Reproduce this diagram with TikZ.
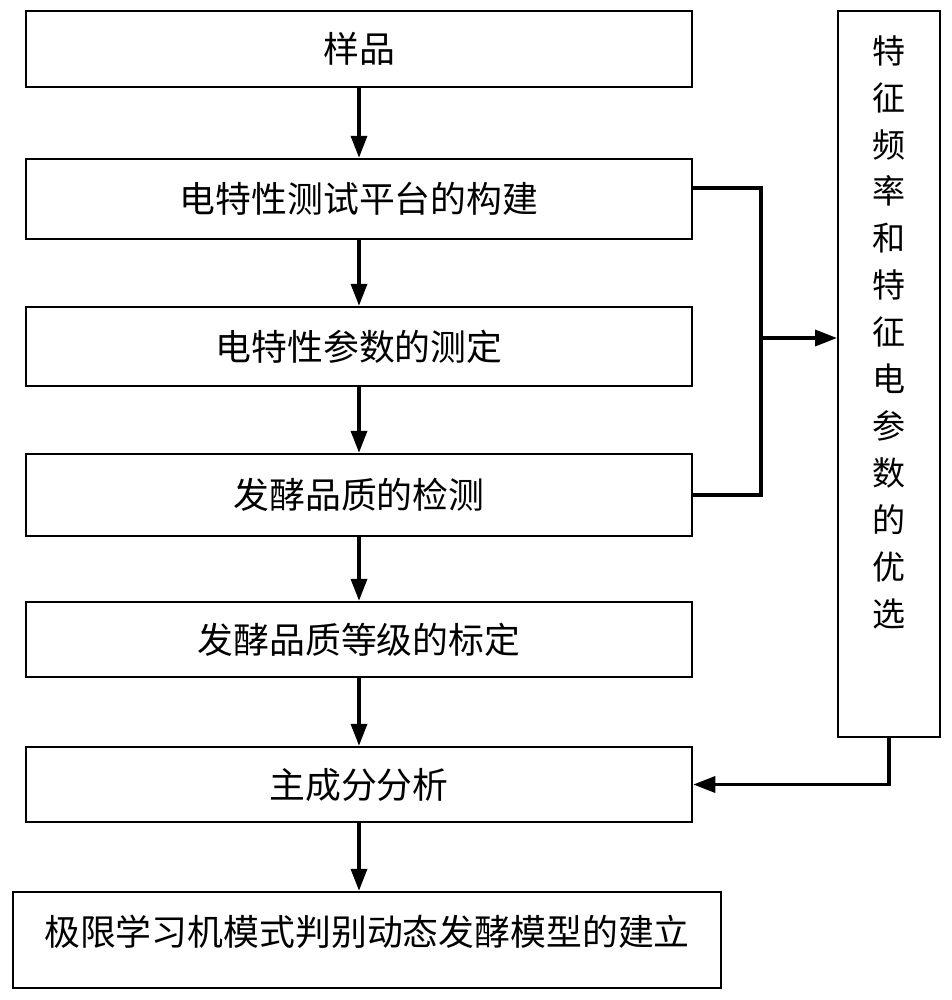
\documentclass[tikz,border=0pt]{standalone}
\usepackage{fontspec}
\setmainfont{Noto Sans CJK SC}
\usepackage{tikz}
\usetikzlibrary{arrows.meta, positioning, calc}
\tikzset{
  fc box/.style={
    rectangle, draw=black, line width=1.7pt, fill=white,
    minimum width=16.65cm, text centered, inner sep=0pt,
    font=\fontsize{25.5}{30}\selectfont
  },
  fc side/.style={
    rectangle, draw=black, line width=1.4pt, fill=white,
    minimum width=2.55cm, minimum height=18.15cm, inner sep=0pt
  },
  fc arrow/.style={
    -{Triangle[length=0.55cm, width=0.4cm]}, line width=2.5pt, draw=black
  },
  fc line/.style={
    line width=2.5pt, draw=black
  }
}
\begin{document}
\begin{tikzpicture}[x=0.025cm, y=-0.025cm,
  vtext/.style={align=center, inner sep=0pt,
    font=\fontsize{23.5}{33.4}\selectfont},
]
\useasboundingbox (0,0) rectangle (952,1000);

% ====== main column ======
\node[fc box, minimum height=1.9cm] (sample) at (359,49) {样品};
\node[fc box, minimum height=2.0cm] (platform) at (359,199) {电特性测试平台的构建};
\node[fc box, minimum height=1.975cm] (measure) at (359,346.5) {电特性参数的测定};
\node[fc box, minimum height=2.05cm] (detect) at (359,495) {发酵品质的检测};
\node[fc box, minimum height=1.875cm] (grade) at (359,639.5) {发酵品质等级的标定};
\node[fc box, minimum height=1.875cm] (pca) at (359,784.5) {主成分分析};
\node[fc box, minimum width=17.7cm, minimum height=2.4cm, text depth=0.5cm] (elm) at (367,940)
  {极限学习机模式判别动态发酵模型的建立};

% ====== side column ======
\node[fc side] (select) at (889,374) {};
\node[vtext, anchor=north] (selecttext) at (889,35)
  {特\\征\\频\\率\\和\\特\\征\\电\\参\\数\\的\\优\\选};

% ====== arrows ======
\draw[fc arrow] (sample.south) -- (platform.north);
\draw[fc arrow] (platform.south) -- (measure.north);
\draw[fc arrow] (measure.south) -- (detect.north);
\draw[fc arrow] (detect.south) -- (grade.north);
\draw[fc arrow] (grade.south) -- (pca.north);
\draw[fc arrow] (pca.south) -- (pca.south |- elm.north);

% bracket to the side box
\coordinate (jtop) at (761,188);
\coordinate (jmid) at (761,338);
\coordinate (jbot) at (761,495);
\draw[fc line] (platform.east |- jtop) -- (jtop) -- (jbot) -- (detect.east);
\draw[fc arrow] (jmid) -- (jmid -| select.west);

% back to PCA
\draw[fc arrow] (select.south) |- (pca.east);

\end{tikzpicture}
\end{document}
